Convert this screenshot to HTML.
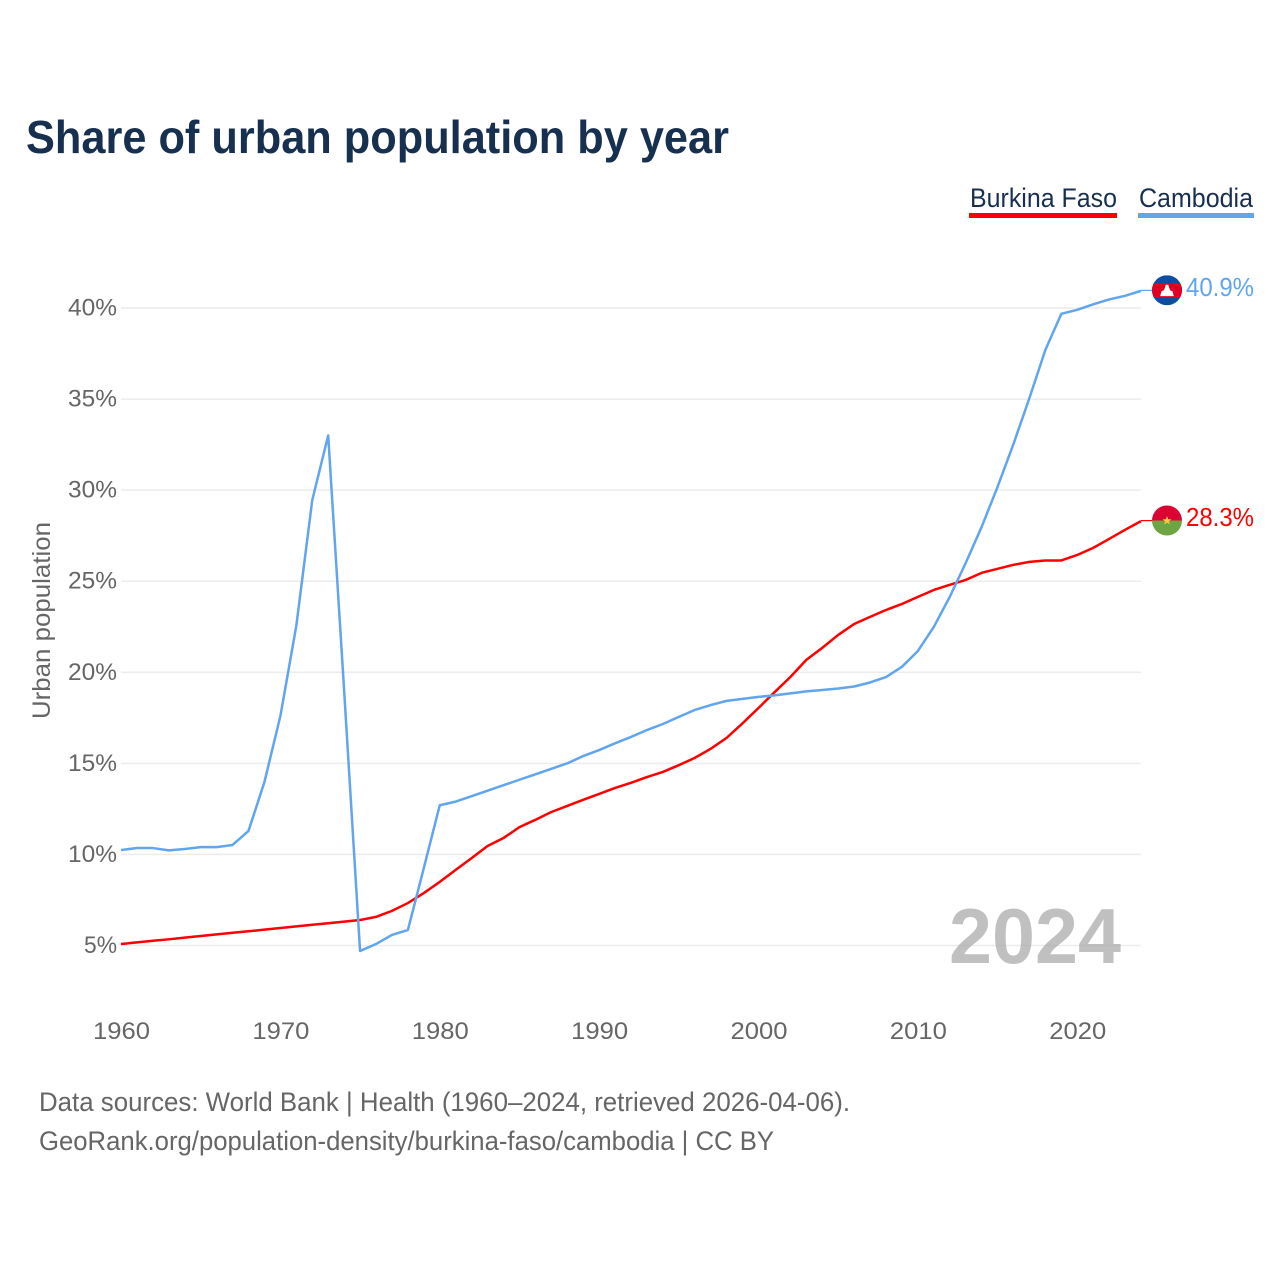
<!DOCTYPE html>
<html lang="en">
<head>
<meta charset="utf-8">
<title>Share of urban population by year</title>
<style>
html,body{margin:0;padding:0;background:#fff;}
svg{display:block;font-family:"Liberation Sans",sans-serif;}
</style>
</head>
<body>
<svg id="chart" width="1280" height="1280" viewBox="0 0 1280 1280" xmlns="http://www.w3.org/2000/svg">
  <defs>
    <clipPath id="kh-clip"><circle cx="0" cy="0" r="15"></circle></clipPath>
    <clipPath id="bf-clip"><circle cx="0" cy="0" r="15"></circle></clipPath>
  </defs>
  <rect x="0" y="0" width="1280" height="1280" fill="#fff"></rect>
  <text x="26" y="153" font-size="46" font-weight="700" fill="#18304f" textLength="703" lengthAdjust="spacingAndGlyphs">Share of urban population by year</text>

  <g>
    <text x="970" y="207" font-size="26.5" fill="#18304f" textLength="147" lengthAdjust="spacingAndGlyphs">Burkina Faso</text>
    <rect x="969" y="213" width="148" height="5" fill="#ff0000"></rect>
  </g>
  <g>
    <text x="1139" y="207" font-size="26.5" fill="#18304f" textLength="114" lengthAdjust="spacingAndGlyphs">Cambodia</text>
    <rect x="1138" y="213" width="116" height="5" fill="#60a5ee"></rect>
  </g>

  <g id="grid"></g>
  <g id="y-ticks"></g>
  <g id="x-ticks"></g>
  <text transform="translate(50,719) rotate(-90)" x="0" y="0" font-size="25" fill="#666" textLength="197" lengthAdjust="spacingAndGlyphs">Urban population</text>

  <text x="949" y="963" font-size="78" font-weight="700" fill="#a8a8a8" fill-opacity="0.72" textLength="172" lengthAdjust="spacingAndGlyphs">2024</text>

  <g id="series"></g>
  <g id="end-labels"></g>

  <text x="39" y="1111" font-size="26.5" fill="#666" textLength="811" lengthAdjust="spacingAndGlyphs">Data sources: World Bank | Health (1960–2024, retrieved 2026-04-06).</text>
  <text x="39" y="1150" font-size="26.5" fill="#666" textLength="735" lengthAdjust="spacingAndGlyphs">GeoRank.org/population-density/burkina-faso/cambodia | CC BY</text>
</svg>
<script>
const startYear = 1960;
const yTickValues = [5, 10, 15, 20, 25, 30, 35, 40];
const xTickYears = [1960, 1970, 1980, 1990, 2000, 2010, 2020];
const burkinaFaso = [5.08,5.17,5.26,5.34,5.43,5.52,5.61,5.70,5.78,5.87,5.96,6.05,6.14,6.22,6.31,6.40,6.57,6.9,7.33,7.88,8.49,9.15,9.8,10.46,10.9,11.5,11.9,12.33,12.66,13.0,13.32,13.65,13.93,14.25,14.53,14.9,15.3,15.8,16.4,17.2,18.04,18.9,19.74,20.68,21.34,22.05,22.65,23.04,23.42,23.75,24.14,24.52,24.8,25.07,25.46,25.68,25.9,26.06,26.14,26.14,26.44,26.83,27.32,27.82,28.3];
const cambodia = [10.24,10.35,10.35,10.22,10.3,10.4,10.4,10.52,11.29,13.98,17.6,22.55,29.45,33.0,19.0,4.7,5.08,5.58,5.85,9.25,12.7,12.9,13.2,13.5,13.8,14.1,14.4,14.7,15.0,15.4,15.73,16.1,16.45,16.83,17.16,17.55,17.93,18.2,18.43,18.54,18.65,18.73,18.84,18.95,19.03,19.11,19.22,19.44,19.74,20.3,21.17,22.49,24.14,26.0,27.98,30.18,32.54,35.06,37.7,39.68,39.9,40.2,40.47,40.67,40.94];

const SVG_NS = 'http://www.w3.org/2000/svg';
function xScale(year) { return 121 + (year - 1960) * (1020 / 64); }
function yScale(value) { return 945.5 - (value - 5) * (637.5 / 35); }

function make(tag, attrs, parent, text) {
  const el = document.createElementNS(SVG_NS, tag);
  for (const key in attrs) el.setAttribute(key, attrs[key]);
  if (text !== undefined) el.textContent = text;
  parent.appendChild(el);
  return el;
}

const gridGroup = document.getElementById('grid');
const yTickGroup = document.getElementById('y-ticks');
const xTickGroup = document.getElementById('x-ticks');
const seriesGroup = document.getElementById('series');
const endGroup = document.getElementById('end-labels');

yTickValues.forEach(function (v) {
  const line = make('line', {x1: 121, x2: 1141, y1: yScale(v), y2: yScale(v), stroke: '#ececec', 'stroke-width': 1.5}, gridGroup);
  
  
  const tickText = v + '%';
  const label = make('text', {x: 117, y: yScale(v) + 7.5, 'text-anchor': 'end', 'font-size': 24.5, fill: '#666', textLength: tickText.length === 2 ? 33 : 49, lengthAdjust: 'spacingAndGlyphs'}, yTickGroup, tickText);
  
  
});

xTickYears.forEach(function (year) {
  const label = make('text', {x: xScale(year) + 0.5, y: 1039, 'text-anchor': 'middle', 'font-size': 24.5, fill: '#666', textLength: 57, lengthAdjust: 'spacingAndGlyphs'}, xTickGroup, String(year));
  
  
});

function drawSeries(values, color, name) {
  const d = values.map(function (v, i) {
    return (i ? 'L' : 'M') + xScale(startYear + i).toFixed(2) + ' ' + yScale(v).toFixed(2);
  }).join(' ');
  const path = make('path', {d: d, fill: 'none', stroke: color, 'stroke-width': 2.5, 'stroke-linejoin': 'round'}, seriesGroup);
  
  
}
drawSeries(burkinaFaso, '#ff0000', 'burkina-faso');
drawSeries(cambodia, '#60a5ee', 'cambodia');

function drawEnd(values, color, name, flagBuilder) {
  const last = values[values.length - 1];
  const y = yScale(last);
  const x = xScale(startYear + values.length - 1);
  const connector = make('line', {x1: x, x2: 1153, y1: y - 0.5, y2: y - 0.5, stroke: color, 'stroke-width': 1.2}, endGroup);
  
  
  const flag = make('g', {transform: 'translate(1167,' + (y - 0.6) + ')'}, endGroup);
  
  
  flagBuilder(flag);
  const label = make('text', {x: 1186, y: y + 5, 'font-size': 26, fill: color, textLength: 68, lengthAdjust: 'spacingAndGlyphs'}, endGroup, last.toFixed(1) + '%');
  
  
}

drawEnd(cambodia, '#60a5ee', 'cambodia', function (g) {
  const inner = make('g', {'clip-path': 'url(#kh-clip)'}, g);
  make('rect', {x: -15, y: -15, width: 30, height: 30, fill: '#0b4ea2'}, inner);
  make('rect', {x: -15, y: -7, width: 30, height: 14.5, fill: '#e00025'}, inner);
  make('path', {d: 'M-6.8 5.8 L-5.5 1 L-3 0 L-1.2 -5.5 L1.2 -5.5 L3 0 L5.5 1 L6.8 5.8 Z', fill: '#fff'}, inner);
});

drawEnd(burkinaFaso, '#ff0000', 'burkina-faso', function (g) {
  const inner = make('g', {'clip-path': 'url(#bf-clip)'}, g);
  make('rect', {x: -15, y: -15, width: 30, height: 15, fill: '#dc0433'}, inner);
  make('rect', {x: -15, y: 0, width: 30, height: 15, fill: '#6fa443'}, inner);
  make('path', {d: 'M0 -4.5 L1.2 -1.3 L4.5 -1.3 L1.9 0.7 L2.8 4 L0 2 L-2.8 4 L-1.9 0.7 L-4.5 -1.3 L-1.2 -1.3 Z', fill: '#f9c941'}, inner);
});
</script>
</body>
</html>
